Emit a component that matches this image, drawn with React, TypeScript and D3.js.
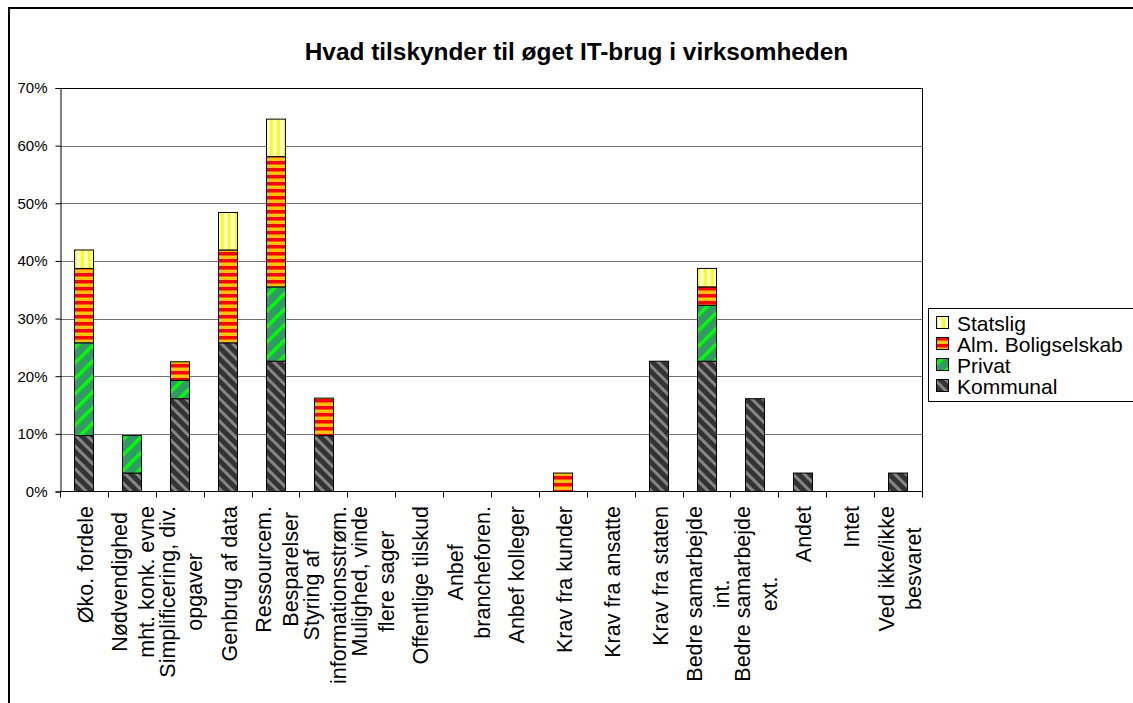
import * as React from "react"
import * as d3 from "d3"

const title = "Hvad tilskynder til øget IT-brug i virksomheden"

const categories = [
  ["Øko. fordele"],
  ["Nødvendighed", "mht. konk. evne"],
  ["Simplificering, div.", "opgaver"],
  ["Genbrug af data"],
  ["Ressourcem.", "Besparelser"],
  ["Styring af", "informationsstrøm."],
  ["Mulighed, vinde", "flere sager"],
  ["Offentlige tilskud"],
  ["Anbef", "brancheforen."],
  ["Anbef kolleger"],
  ["Krav fra kunder"],
  ["Krav fra ansatte"],
  ["Krav fra staten"],
  ["Bedre samarbejde", "int."],
  ["Bedre samarbejde", "ext."],
  ["Andet"],
  ["Intet"],
  ["Ved ikke/ikke", "besvaret"],
]

// stacked percentages, bottom to top
const kommunal = [9.7, 3.2, 16.1, 25.8, 22.6, 9.7, 0, 0, 0, 0, 0, 0, 22.6, 22.6, 16.1, 3.2, 0, 3.2]
const privat = [16.1, 6.5, 3.2, 0, 12.9, 0, 0, 0, 0, 0, 0, 0, 0, 9.7, 0, 0, 0, 0]
const almBolig = [12.9, 0, 3.2, 16.1, 22.6, 6.5, 0, 0, 0, 0, 3.2, 0, 0, 3.2, 0, 0, 0, 0]
const statslig = [3.2, 0, 0, 6.5, 6.5, 0, 0, 0, 0, 0, 0, 0, 0, 3.2, 0, 0, 0, 0]

const seriesKeys = ["Kommunal", "Privat", "Alm. Boligselskab", "Statslig"]
const yTicks = [0, 10, 20, 30, 40, 50, 60, 70]

const FONT = "Arial, 'Liberation Sans', sans-serif"

function App() {
  const svgRef = React.useRef<SVGSVGElement>(null)
  const width = 1133
  const height = 703
  const plot = { left: 60, right: 922, top: 88, bottom: 491.5 }

  React.useEffect(() => {
    const svg = d3.select(svgRef.current)
    svg.selectAll("*").remove()

    const rows = categories.map((c, i) => ({
      idx: i,
      Kommunal: kommunal[i],
      Privat: privat[i],
      "Alm. Boligselskab": almBolig[i],
      Statslig: statslig[i],
    }))

    const x = d3
      .scaleBand<number>()
      .domain(categories.map((_, i) => i))
      .range([plot.left, plot.right])
      .paddingInner(0.6)
      .paddingOuter(0.3)
    const step = x.step()

    const y = d3.scaleLinear().domain([0, 70]).range([plot.bottom, plot.top])

    // patterns
    const defs = svg.append("defs")
    const pKom = defs
      .append("pattern")
      .attr("id", "pKom")
      .attr("patternUnits", "userSpaceOnUse")
      .attr("width", 8)
      .attr("height", 8)
      .attr("patternTransform", "rotate(-45)")
    pKom.append("rect").attr("width", 8).attr("height", 8).attr("fill", "#333333")
    pKom.append("rect").attr("width", 3).attr("height", 8).attr("fill", "#858585")

    const pPri = defs
      .append("pattern")
      .attr("id", "pPri")
      .attr("patternUnits", "userSpaceOnUse")
      .attr("width", 11)
      .attr("height", 11)
      .attr("patternTransform", "rotate(45)")
    pPri.append("rect").attr("width", 11).attr("height", 11).attr("fill", "#339966")
    pPri.append("rect").attr("width", 3.5).attr("height", 11).attr("fill", "#00ff00")

    const pAlm = defs
      .append("pattern")
      .attr("id", "pAlm")
      .attr("patternUnits", "userSpaceOnUse")
      .attr("width", 7)
      .attr("height", 7)
    pAlm.append("rect").attr("width", 7).attr("height", 7).attr("fill", "#ffc000")
    pAlm.append("rect").attr("width", 7).attr("height", 3.5).attr("fill", "#ff0000")

    const pSta = defs
      .append("pattern")
      .attr("id", "pSta")
      .attr("patternUnits", "userSpaceOnUse")
      .attr("width", 7)
      .attr("height", 7)
    pSta.append("rect").attr("width", 7).attr("height", 7).attr("fill", "#ffffff")
    pSta.append("rect").attr("x", 3.5).attr("width", 3.5).attr("height", 7).attr("fill", "#ffff00")

    const fills: Record<string, string> = {
      Kommunal: "url(#pKom)",
      Privat: "url(#pPri)",
      "Alm. Boligselskab": "url(#pAlm)",
      Statslig: "url(#pSta)",
    }

    // background + outer frame
    svg
      .append("rect")
      .attr("x", 9)
      .attr("y", 8)
      .attr("width", 1200)
      .attr("height", 800)
      .attr("fill", "#fff")
      .attr("stroke", "#000")
      .attr("stroke-width", 2)

    // title
    svg
      .append("text")
      .attr("x", 576.5)
      .attr("y", 60)
      .attr("text-anchor", "middle")
      .attr("font-family", FONT)
      .attr("font-weight", "bold")
      .attr("font-size", 24.4)
      .text(title)

    // gridlines
    svg
      .append("g")
      .selectAll("line")
      .data(yTicks.filter((t) => t > 0))
      .join("line")
      .attr("x1", plot.left)
      .attr("x2", plot.right)
      .attr("y1", (d) => Math.round(y(d)) + 0.5)
      .attr("y2", (d) => Math.round(y(d)) + 0.5)
      .attr("stroke", (d) => (d === 70 ? "#000" : "#707070"))
      .attr("stroke-width", 1)

    // right border of plot area
    svg
      .append("line")
      .attr("x1", plot.right + 0.5)
      .attr("x2", plot.right + 0.5)
      .attr("y1", y(70))
      .attr("y2", y(0))
      .attr("stroke", "#000")

    // y axis
    const yAxis = d3
      .axisLeft(y)
      .tickValues(yTicks)
      .tickSize(5)
      .tickPadding(8)
      .tickFormat((d) => `${d}%`)
    const gy = svg
      .append("g")
      .attr("transform", `translate(${plot.left + 0.5},0)`)
      .call(yAxis)
    gy.select(".domain").attr("stroke", "#000")
    gy.selectAll(".tick line").attr("stroke", "#000")
    gy.selectAll(".tick text")
      .attr("font-family", FONT)
      .attr("font-size", 15)
      .attr("fill", "#000")

    // bars
    const stacked = d3.stack<any>().keys(seriesKeys)(rows)
    svg
      .append("g")
      .selectAll("g")
      .data(stacked)
      .join("g")
      .attr("fill", (s) => fills[s.key])
      .selectAll("rect")
      .data((s) => s.filter((d) => d[1] - d[0] > 0))
      .join("rect")
      .attr("x", (d) => Math.round(x(d.data.idx)!) + 0.5)
      .attr("width", Math.round(x.bandwidth()))
      .attr("y", (d) => y(d[1]))
      .attr("height", (d) => y(d[0]) - y(d[1]))
      .attr("stroke", "#000")
      .attr("stroke-width", 1)

    // x axis with ticks at category boundaries
    const xBase = y(0)
    svg
      .append("line")
      .attr("x1", plot.left)
      .attr("x2", plot.right + 1)
      .attr("y1", xBase)
      .attr("y2", xBase)
      .attr("stroke", "#000")
    const bounds = d3.range(categories.length + 1).map((i) => plot.left + i * step)
    svg
      .append("g")
      .selectAll("line")
      .data(bounds)
      .join("line")
      .attr("x1", (d) => Math.round(d) + 0.5)
      .attr("x2", (d) => Math.round(d) + 0.5)
      .attr("y1", xBase)
      .attr("y2", xBase + 6)
      .attr("stroke", "#000")

    // rotated category labels
    const lineGap = 27
    const labels = svg.append("g")
    categories.forEach((lines, i) => {
      const cx = x(i)! + x.bandwidth() / 2 + 2
      const g = labels.append("g")
      const texts = lines.map((ln) =>
        g
          .append("text")
          .attr("font-family", FONT)
          .attr("font-size", 21.5)
          .attr("text-anchor", "middle")
          .attr("dominant-baseline", "central")
          .text(ln)
      )
      const maxLen = d3.max(texts, (t) => (t.node() as SVGTextElement).getComputedTextLength()) || 0
      const cy = 506 + maxLen / 2
      texts.forEach((t, j) => {
        const lx = cx + (j - (lines.length - 1) / 2) * lineGap
        t.attr("transform", `translate(${lx},${cy}) rotate(-90)`)
      })
    })

    // legend
    const legendItems = ["Statslig", "Alm. Boligselskab", "Privat", "Kommunal"]
    svg
      .append("rect")
      .attr("x", 928.5)
      .attr("y", 308.5)
      .attr("width", 300)
      .attr("height", 93)
      .attr("fill", "#fff")
      .attr("stroke", "#000")
    const lg = svg
      .append("g")
      .selectAll("g")
      .data(legendItems)
      .join("g")
      .attr("transform", (_, i) => `translate(0,${323 + i * 21})`)
    lg.append("rect")
      .attr("x", 936.5)
      .attr("y", -6.5)
      .attr("width", 12)
      .attr("height", 12)
      .attr("fill", (d) => fills[d])
      .attr("stroke", "#000")
    lg.append("text")
      .attr("x", 957)
      .attr("y", 7.5)
      .attr("font-family", FONT)
      .attr("font-size", 21)
      .text((d) => d)
  }, [])

  return (
    <svg
      ref={svgRef}
      width={width}
      height={height}
      style={{ position: "absolute", left: 0, top: 0, display: "block" }}
    ></svg>
  )
}

export default App
